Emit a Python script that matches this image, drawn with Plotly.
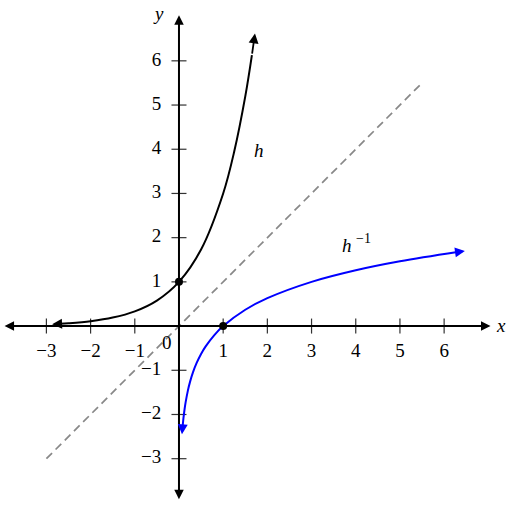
import plotly.graph_objects as go

# h(x) = 3^x
h_x = [-2.87, -2.7, -2.5, -2.0, -1.5, -1.0, -0.5, 0.0, 0.5, 1.0, 1.25, 1.5, 1.65, 1.72]
h_y = [0.043, 0.051, 0.064, 0.111, 0.192, 0.333, 0.577, 1.0, 1.732, 3.0, 3.948, 5.196, 6.13, 6.62]

# inverse h^-1(x) = log_3 x
hi_x = [0.068, 0.08, 0.1, 0.125, 0.15, 0.2, 0.25, 0.32, 0.4, 0.5, 0.6, 0.8, 1.0, 1.5, 2.0, 3.0, 4.0, 5.0, 6.3, 6.47]
hi_y = [-2.447, -2.299, -2.096, -1.893, -1.727, -1.465, -1.262, -1.037, -0.834, -0.631, -0.465, -0.203, 0.0, 0.369, 0.631, 1.0, 1.262, 1.465, 1.675, 1.699]

# identity line y = x
id_x = [-3.0, 5.5]
id_y = [-3.0, 5.5]

x_ticks = [-3, -2, -1, 1, 2, 3, 4, 5, 6]
x_labels = ["−3", "−2", "−1", "1", "2", "3", "4", "5", "6"]
y_ticks = [-3, -2, -1, 1, 2, 3, 4, 5, 6]
y_labels = ["−3", "−2", "−1", "1", "2", "3", "4", "5", "6"]

dots_x = [0, 1]
dots_y = [1, 0]

FONT = "Liberation Serif"
TL = 0.17

fig = go.Figure()

# ticks
tx, ty = [], []
for t in x_ticks:
    tx += [t, t, None]
    ty += [-TL, TL, None]
for t in y_ticks:
    tx += [-TL, TL, None]
    ty += [t, t, None]
fig.add_trace(go.Scatter(x=tx, y=ty, mode="lines", line=dict(color="#333333", width=1.2),
                         hoverinfo="skip", showlegend=False))

# dashed identity
fig.add_trace(go.Scatter(x=id_x, y=id_y, mode="lines",
                         line=dict(color="#888888", width=1.7, dash="8px,5px"),
                         showlegend=False))

# curves
fig.add_trace(go.Scatter(x=h_x[1:-1], y=h_y[1:-1], mode="lines", line_shape="spline",
                         line=dict(color="black", width=2), showlegend=False))
fig.add_trace(go.Scatter(x=hi_x[1:-1], y=hi_y[1:-1], mode="lines", line_shape="spline",
                         line=dict(color="#0000ff", width=2), showlegend=False))

# dots
fig.add_trace(go.Scatter(x=dots_x, y=dots_y, mode="markers",
                         marker=dict(color="black", size=8), showlegend=False))

# tick labels
fig.add_trace(go.Scatter(x=x_ticks, y=[-0.6] * len(x_ticks), mode="text", text=x_labels,
                         textfont=dict(family=FONT, size=19, color="black"), showlegend=False))
fig.add_trace(go.Scatter(x=[-0.40] * len(y_ticks), y=y_ticks, mode="text", text=y_labels,
                         textposition="middle left",
                         textfont=dict(family=FONT, size=19, color="black"), showlegend=False))

annotations = []
def arrow(x0, y0, x1, y1, color, both=False, width=2, size=1.1):
    annotations.append(dict(x=x1, y=y1, ax=x0, ay=y0, xref="x", yref="y", axref="x", ayref="y",
                            text="", showarrow=True, arrowhead=2, arrowsize=size,
                            arrowwidth=width, arrowcolor=color, standoff=0, startstandoff=0,
                            startarrowhead=2, startarrowsize=size,
                            arrowside="end+start" if both else "end"))

# axes
arrow(-3.98, 0, 7.05, 0, "black", both=True, width=2, size=0.95)
arrow(0, -3.95, 0, 7.03, "black", both=True, width=2, size=0.95)
# curve arrowheads
arrow(h_x[-2], h_y[-2], h_x[-1], h_y[-1], "black", width=1.8)
arrow(h_x[1], h_y[1], h_x[0], h_y[0], "black", width=1.8)
arrow(hi_x[-2], hi_y[-2], hi_x[-1], hi_y[-1], "#0000ff", width=1.8)
arrow(hi_x[1], hi_y[1], hi_x[0], hi_y[0], "#0000ff", width=1.8)

def label(x, y, text, size=19, xanchor="center"):
    annotations.append(dict(x=x, y=y, xref="x", yref="y", text=text, showarrow=False,
                            xanchor=xanchor, font=dict(family=FONT, size=size, color="black")))

label(-0.27, -0.38, "0")
label(1.8, 3.98, "<i>h</i>")
label(3.80, 1.83, "<i>h</i>")
label(3.96, 1.98, "−1", size=14, xanchor="left")
label(7.13, 0.02, "<i>x</i>", xanchor="left")
label(-0.47, 7.06, "<i>y</i>")

fig.update_layout(
    width=506, height=506, margin=dict(l=0, r=0, t=0, b=0),
    plot_bgcolor="white", paper_bgcolor="white",
    xaxis=dict(range=[-4.05, 7.40], visible=False, fixedrange=True),
    yaxis=dict(range=[-4.07, 7.376], visible=False, fixedrange=True),
    annotations=annotations,
)

fig.write_html("out.html", post_script="document.body.style.margin='0';",
               config={"displayModeBar": False})
